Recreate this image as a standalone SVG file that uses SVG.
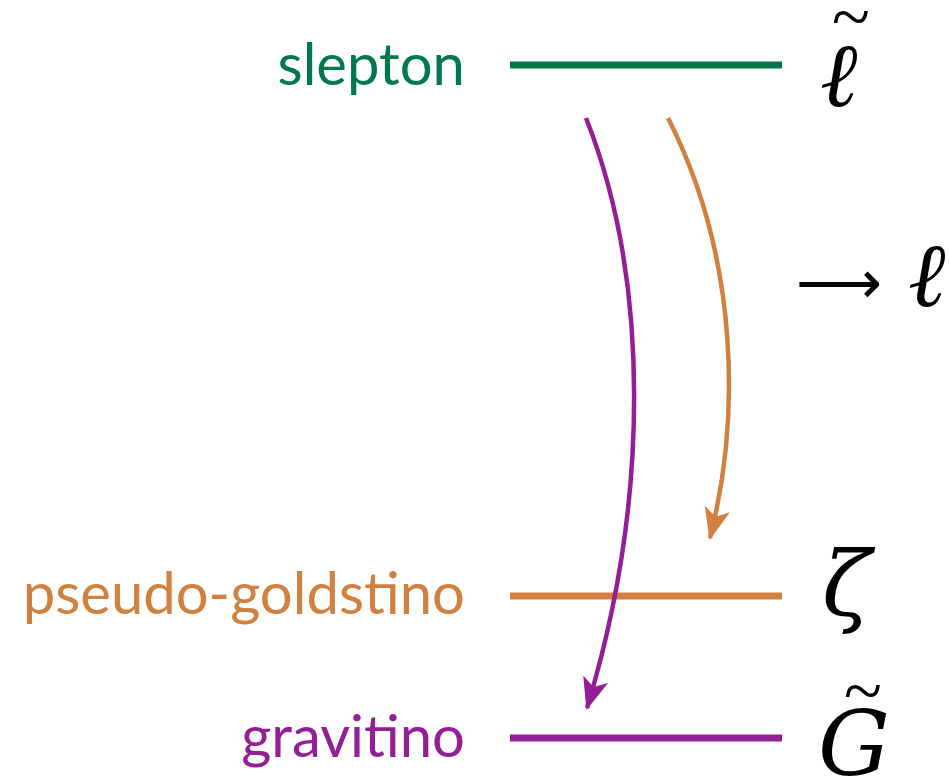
<svg xmlns="http://www.w3.org/2000/svg" width="949" height="780" viewBox="0 0 949 780">
<style>
.lbl{font-family:Lato,"Open Sans",sans-serif;font-size:58px;text-anchor:end}
.math{font-family:"DejaVu Serif","Liberation Serif",serif;font-style:italic;fill:#000}
.tl{font-family:"Liberation Serif",serif;font-size:70px;fill:#000}
.lvl{stroke-width:7;fill:none}
</style>
<defs>
<marker id="ahO" markerUnits="userSpaceOnUse" markerWidth="34" markerHeight="30" refX="30" refY="15" orient="auto" viewBox="0 0 34 30">
<path d="M0,2 L32,15 L0,28 L8,15 z" fill="#d0813f"/>
</marker>
<marker id="ahP" markerUnits="userSpaceOnUse" markerWidth="34" markerHeight="30" refX="30" refY="15" orient="auto" viewBox="0 0 34 30">
<path d="M0,2 L32,15 L0,28 L8,15 z" fill="#931f96"/>
</marker>
</defs>
<rect width="949" height="780" fill="#fff"/>
<g id="slepton">
<text class="lbl" x="465" y="85" fill="#00784a">slepton</text>
<line class="lvl" x1="510" y1="65" x2="782" y2="65" stroke="#00784a"/>
<text class="math" x="820" y="106" font-size="90">ℓ</text>
<text class="tl" x="832" y="40">~</text>
</g>
<g id="pseudo-goldstino">
<text class="lbl" x="465" y="614" fill="#d0813f">pseudo-goldstino</text>
<line class="lvl" x1="510" y1="596" x2="782" y2="596" stroke="#d0813f"/>
<text class="math" x="822" y="615" font-size="90">ζ</text>
</g>
<g id="gravitino">
<text class="lbl" x="465" y="757" fill="#931f96">gravitino</text>
<line class="lvl" x1="510" y1="738" x2="782" y2="738" stroke="#931f96"/>
<text class="math" x="818" y="775" font-size="90">G</text>
<text class="tl" x="844" y="714">~</text>
</g>
<g id="decay">
<text x="796" y="303" font-family="DejaVu Sans,sans-serif" font-size="60" fill="#000">⟶</text>
<text class="math" x="908" y="306" font-size="90">ℓ</text>
</g>
<g id="connectors">
<path d="M586,118 C650,280 650,500 587,708" stroke="#931f96" stroke-width="4.5" fill="none" marker-end="url(#ahP)"/>
<path d="M668,118 C740,260 740,420 710,538" stroke="#d0813f" stroke-width="4.5" fill="none" marker-end="url(#ahO)"/>
</g>
</svg>
